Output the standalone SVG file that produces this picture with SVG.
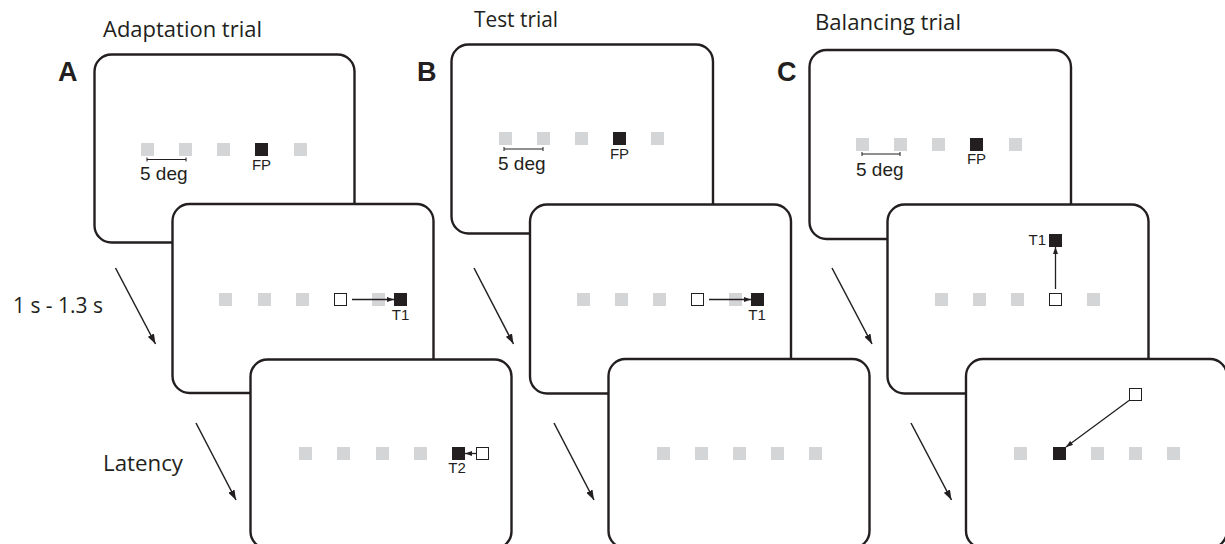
<svg xmlns="http://www.w3.org/2000/svg" width="1225" height="544" viewBox="0 0 1225 544">
<defs>
<style>
.screen{fill:#fff;stroke:#231f20;stroke-width:2.4}
.g{fill:#d4d5d7}
.k{fill:#231f20}
.w{fill:#fff;stroke:#231f20;stroke-width:1}
.title{font-family:"Open Sans","Noto Sans",sans-serif;font-size:22px;fill:#231f20}
.letter{font-family:"Liberation Sans",Arial,sans-serif;font-weight:bold;font-size:27px;fill:#231f20}
.small{font-family:"Liberation Sans",Arial,sans-serif;font-size:15px;fill:#231f20}
.deg{font-family:"Liberation Sans",Arial,sans-serif;font-size:19px;fill:#231f20}
.bar{stroke:#231f20;stroke-width:1;fill:none}
.flow{stroke:#231f20;stroke-width:1.5;fill:none;marker-end:url(#ah)}
.sac{stroke:#231f20;stroke-width:1.3;fill:none;marker-end:url(#sh)}
</style>
<marker id="ah" markerUnits="userSpaceOnUse" viewBox="0 0 10 7" refX="10" refY="3.5" markerWidth="10" markerHeight="7" orient="auto"><path d="M0,0L10,3.5L0,7z" fill="#231f20"/></marker>
<marker id="sh" markerUnits="userSpaceOnUse" viewBox="0 0 7 5" refX="7" refY="2.5" markerWidth="7" markerHeight="5" orient="auto"><path d="M0,0L7,2.5L0,5z" fill="#231f20"/></marker>
</defs>

<g id="labels">
<text class="title" x="103" y="37.3" textLength="159" lengthAdjust="spacingAndGlyphs">Adaptation trial</text>
<text class="title" x="474" y="27.3" textLength="84" lengthAdjust="spacingAndGlyphs">Test trial</text>
<text class="title" x="815" y="30" textLength="146" lengthAdjust="spacingAndGlyphs">Balancing trial</text>
<text class="letter" x="58" y="81">A</text>
<text class="letter" x="417" y="81">B</text>
<text class="letter" x="777" y="81">C</text>
<text class="title" x="13" y="313" textLength="90" lengthAdjust="spacingAndGlyphs">1 s - 1.3 s</text>
<text class="title" x="103" y="471" textLength="80" lengthAdjust="spacingAndGlyphs">Latency</text>
</g>

<!-- Panel A -->
<g id="A-fixation">
<rect class="screen" x="94.5" y="54.5" width="260" height="188" rx="17"/>
<rect class="g" x="141" y="143" width="13" height="13"/>
<rect class="g" x="179" y="143" width="13" height="13"/>
<rect class="g" x="217" y="143" width="13" height="13"/>
<rect class="k" x="255" y="143" width="13" height="13"/>
<rect class="g" x="294" y="143" width="13" height="13"/>
<path class="bar" d="M147,159.5H186M147,157.5V161.5M186,157.5V161.5"/>
<text class="deg" x="140" y="180">5 deg</text>
<text class="small" x="261.5" y="170" text-anchor="middle">FP</text>
</g>
<g id="A-target1">
<rect class="screen" x="172.5" y="204" width="261" height="189" rx="17"/>
<rect class="g" x="219" y="293" width="13" height="13"/>
<rect class="g" x="258" y="293" width="13" height="13"/>
<rect class="g" x="296" y="293" width="13" height="13"/>
<rect class="w" x="334.5" y="293.5" width="12" height="12"/>
<rect class="g" x="372" y="293" width="13" height="13"/>
<rect class="k" x="394" y="293" width="13" height="13"/>
<line class="sac" x1="352" y1="299.5" x2="394" y2="299.5"/>
<text class="small" x="400.5" y="320" text-anchor="middle">T1</text>
</g>
<g id="A-target2">
<rect class="screen" x="250.5" y="359.5" width="261" height="189" rx="17"/>
<rect class="g" x="299" y="447" width="13" height="13"/>
<rect class="g" x="337" y="447" width="13" height="13"/>
<rect class="g" x="376" y="447" width="13" height="13"/>
<rect class="g" x="414" y="447" width="13" height="13"/>
<rect class="k" x="452" y="447" width="13" height="13"/>
<rect class="w" x="476.5" y="447.5" width="12" height="12"/>
<line class="sac" x1="476" y1="453.5" x2="465" y2="453.5"/>
<text class="small" x="457" y="473" text-anchor="middle">T2</text>
</g>

<!-- Panel B -->
<g id="B-fixation">
<rect class="screen" x="451.5" y="44.5" width="261.5" height="189" rx="17"/>
<rect class="g" x="499" y="132" width="13" height="13"/>
<rect class="g" x="537" y="132" width="13" height="13"/>
<rect class="g" x="575" y="132" width="13" height="13"/>
<rect class="k" x="613" y="132" width="13" height="13"/>
<rect class="g" x="651" y="132" width="13" height="13"/>
<path class="bar" d="M504,149H543M504,147V151M543,147V151"/>
<text class="deg" x="498" y="170">5 deg</text>
<text class="small" x="619.5" y="159" text-anchor="middle">FP</text>
</g>
<g id="B-target1">
<rect class="screen" x="530" y="204.5" width="261" height="189" rx="17"/>
<rect class="g" x="577" y="293" width="13" height="13"/>
<rect class="g" x="615" y="293" width="13" height="13"/>
<rect class="g" x="653" y="293" width="13" height="13"/>
<rect class="w" x="691.5" y="293.5" width="12" height="12"/>
<rect class="g" x="729" y="293" width="13" height="13"/>
<rect class="k" x="751" y="293" width="13" height="13"/>
<line class="sac" x1="709" y1="299.5" x2="751" y2="299.5"/>
<text class="small" x="757" y="320" text-anchor="middle">T1</text>
</g>
<g id="B-blank">
<rect class="screen" x="608.5" y="359" width="261" height="189" rx="17"/>
<rect class="g" x="657" y="447" width="13" height="13"/>
<rect class="g" x="695" y="447" width="13" height="13"/>
<rect class="g" x="733" y="447" width="13" height="13"/>
<rect class="g" x="771" y="447" width="13" height="13"/>
<rect class="g" x="809" y="447" width="13" height="13"/>
</g>

<!-- Panel C -->
<g id="C-fixation">
<rect class="screen" x="809.5" y="50" width="261.5" height="189" rx="17"/>
<rect class="g" x="856" y="138" width="13" height="13"/>
<rect class="g" x="894" y="138" width="13" height="13"/>
<rect class="g" x="932" y="138" width="13" height="13"/>
<rect class="k" x="970" y="138" width="13" height="13"/>
<rect class="g" x="1009" y="138" width="13" height="13"/>
<path class="bar" d="M862,154H900M862,152V156M900,152V156"/>
<text class="deg" x="856" y="176">5 deg</text>
<text class="small" x="976.5" y="164" text-anchor="middle">FP</text>
</g>
<g id="C-target1">
<rect class="screen" x="887.5" y="204.5" width="261" height="189" rx="17"/>
<rect class="g" x="935" y="293" width="13" height="13"/>
<rect class="g" x="973" y="293" width="13" height="13"/>
<rect class="g" x="1011" y="293" width="13" height="13"/>
<rect class="w" x="1049.5" y="293.5" width="12" height="12"/>
<rect class="g" x="1087" y="293" width="13" height="13"/>
<rect class="k" x="1049" y="234" width="13" height="13"/>
<line class="sac" x1="1055.5" y1="289" x2="1055.5" y2="247"/>
<text class="small" x="1046" y="245" text-anchor="end">T1</text>
</g>
<g id="C-target2">
<rect class="screen" x="966" y="359" width="261" height="189" rx="17"/>
<rect class="g" x="1014" y="447" width="13" height="13"/>
<rect class="k" x="1053" y="447" width="13" height="13"/>
<rect class="g" x="1091" y="447" width="13" height="13"/>
<rect class="g" x="1129" y="447" width="13" height="13"/>
<rect class="g" x="1167" y="447" width="13" height="13"/>
<rect class="w" x="1129.5" y="388.5" width="12" height="12"/>
<line class="sac" x1="1129" y1="400.5" x2="1066" y2="447"/>
</g>

<g id="connectors">
<line class="flow" x1="115.5" y1="268" x2="155.5" y2="344"/>
<line class="flow" x1="196" y1="423" x2="236" y2="500"/>
<line class="flow" x1="474" y1="268" x2="513.5" y2="344"/>
<line class="flow" x1="554" y1="423" x2="594" y2="500"/>
<line class="flow" x1="832" y1="268" x2="872" y2="344"/>
<line class="flow" x1="911" y1="423" x2="951.5" y2="500"/>
</g>
</svg>
